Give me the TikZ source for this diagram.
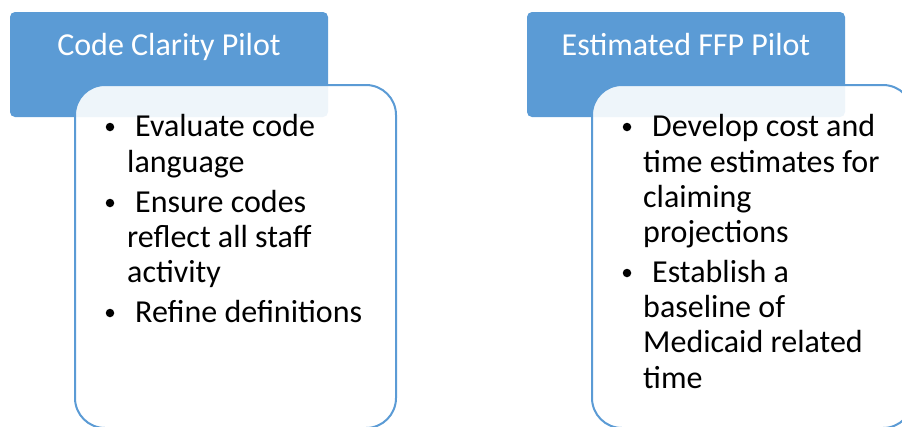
\documentclass[tikz,border=0pt]{standalone}
\usepackage{fontspec}
\setmainfont{Carlito}
\definecolor{accent}{HTML}{5B9BD5}
\begin{document}
\begin{tikzpicture}[x=1pt,y=-1pt,
  header/.style={fill=accent, rounded corners=5pt, minimum width=318pt, minimum height=105pt, inner sep=0},
  card/.style={draw=accent, line width=2pt, fill=white, fill opacity=0.9, rounded corners=30pt,
               minimum width=321pt, minimum height=343pt, inner sep=0},
  headtext/.style={text=white, font=\fontsize{32}{38}\selectfont, anchor=base, inner sep=0},
  itemline/.style={font=\fontsize{32}{38}\selectfont, anchor=base west, inner sep=0},
  dot/.style={circle, fill=black, minimum size=8.5pt, inner sep=0}]
\useasboundingbox (0,0) rectangle (902,426);
\clip (0,0) rectangle (902,426);

% Code Clarity Pilot
\node[header] (h1) at (169,64.5) {};
\node[headtext] (t1) at (169,55) {Code Clarity Pilot};
\node[card] (c1) at (235.5,256.5) {};
\node[dot] (d11) at (110,127) {};
\node[itemline] (l11) at (135,136) {Evaluate code};
\node[itemline] (l12) at (127,172) {language};
\node[dot] (d12) at (110,203) {};
\node[itemline] (l13) at (135,212) {Ensure codes};
\node[itemline] (l14) at (127,247) {reflect all staff};
\node[itemline] (l15) at (127,282) {activity};
\node[dot] (d13) at (110,313) {};
\node[itemline] (l16) at (135,322) {Refine definitions};

% Estimated FFP Pilot
\node[header] (h2) at (686,64.5) {};
\node[headtext] (t2) at (686,55) {Estimated FFP Pilot};
\node[card] (c2) at (752.5,256.5) {};
\node[dot] (d21) at (627,127) {};
\node[itemline] (l21) at (652,136) {Develop cost and};
\node[itemline] (l22) at (643,172) {time estimates for};
\node[itemline] (l23) at (643,207) {claiming};
\node[itemline] (l24) at (643,242) {projections};
\node[dot] (d22) at (627,273) {};
\node[itemline] (l25) at (652,282) {Establish a};
\node[itemline] (l26) at (643,317) {baseline of};
\node[itemline] (l27) at (643,352) {Medicaid related};
\node[itemline] (l28) at (643,388) {time};
\end{tikzpicture}
\end{document}
